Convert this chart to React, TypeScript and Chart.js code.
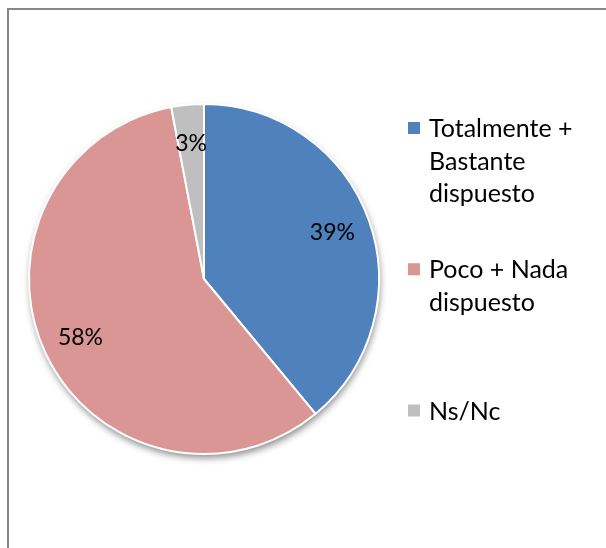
import React, { useEffect, useRef } from "react";
import { Chart, registerables } from "chart.js";

Chart.register(...registerables);

const categories: string[][] = [
  ["Totalmente +", "Bastante", "dispuesto"],
  ["Poco + Nada", "dispuesto"],
  ["Ns/Nc"],
];
const values: number[] = [39, 58, 3];
const colors: string[] = ["#4F81BD", "#DA9694", "#BFBFBF"];

const FONT = "Lato, 'Noto Sans', sans-serif";

const shadowPlugin = {
  id: "pieShadow",
  beforeDatasetsDraw(chart: any) {
    const meta = chart.getDatasetMeta(0);
    const arc = meta.data[0];
    if (!arc) return;
    const { x, y, outerRadius } = arc.getProps(["x", "y", "outerRadius"], true);
    const ctx = chart.ctx;
    ctx.save();
    ctx.shadowColor = "rgba(0,0,0,0.45)";
    ctx.shadowBlur = 7;
    ctx.shadowOffsetX = 1;
    ctx.shadowOffsetY = 4;
    ctx.beginPath();
    ctx.arc(x, y, outerRadius, 0, Math.PI * 2);
    ctx.fillStyle = "#ffffff";
    ctx.fill();
    ctx.restore();
  },
};

const labelPlugin = {
  id: "sliceLabels",
  afterDatasetsDraw(chart: any) {
    const meta = chart.getDatasetMeta(0);
    const data = chart.data.datasets[0].data as number[];
    const ctx = chart.ctx;
    ctx.save();
    ctx.font = `23px ${FONT}`;
    ctx.fillStyle = "#000";
    ctx.textAlign = "center";
    ctx.textBaseline = "middle";
    meta.data.forEach((arc: any, i: number) => {
      const { x, y, startAngle, endAngle, outerRadius } = arc.getProps(
        ["x", "y", "startAngle", "endAngle", "outerRadius"],
        true
      );
      const mid = (startAngle + endAngle) / 2;
      const r = outerRadius * 0.78;
      ctx.fillText(`${data[i]}%`, x + Math.cos(mid) * r, y + Math.sin(mid) * r);
    });
    ctx.restore();
  },
};

const legendPlugin = {
  id: "sideLegend",
  afterDraw(chart: any) {
    const ctx = chart.ctx;
    const labels = chart.data.labels as string[][];
    const bg = chart.data.datasets[0].backgroundColor as string[];
    const boxX = 408;
    const textX = 429;
    const firstCenter = 160.5;
    const step = 125;
    const lineH = 32.5;
    const box = 12;
    ctx.save();
    ctx.font = `25px ${FONT}`;
    ctx.fillStyle = "#000";
    ctx.textAlign = "left";
    ctx.textBaseline = "middle";
    labels.forEach((lines, i) => {
      const center = firstCenter + i * step;
      const top = center - ((lines.length - 1) * lineH) / 2;
      ctx.fillStyle = bg[i];
      ctx.fillRect(boxX, top - box / 2, box, box);
      ctx.fillStyle = "#000";
      lines.forEach((ln, j) => {
        ctx.fillText(ln, textX, top + j * lineH + 1);
      });
    });
    ctx.restore();
  },
};

export default function App() {
  const ref = useRef<HTMLCanvasElement | null>(null);
  useEffect(() => {
    if (!ref.current) return;
    const chart = new Chart(ref.current, {
      type: "pie",
      data: {
        labels: categories as any,
        datasets: [
          {
            data: values,
            backgroundColor: colors,
            borderColor: "#ffffff",
            borderWidth: 2,
          },
        ],
      },
      options: {
        animation: false,
        responsive: false,
        maintainAspectRatio: false,
        radius: 175,
        layout: { padding: { left: 20, right: 218, top: 20, bottom: 10 } },
        plugins: {
          legend: { display: false },
          tooltip: { enabled: false },
        },
      } as any,
      plugins: [shadowPlugin, labelPlugin, legendPlugin],
    });
    return () => chart.destroy();
  }, []);
  return (
    <div
      style={{
        position: "fixed",
        left: 0,
        top: 0,
        width: 606,
        height: 548,
        overflow: "hidden",
        background: "#fff",
      }}
    >
      <div
        style={{
          position: "absolute",
          left: 7,
          top: 8,
          width: 640,
          height: 600,
          border: "2px solid #888888",
          boxSizing: "border-box",
        }}
      />
      <canvas
        ref={ref}
        width={606}
        height={548}
        style={{ position: "absolute", left: 0, top: 0, width: 606, height: 548 }}
      />
    </div>
  );
}
